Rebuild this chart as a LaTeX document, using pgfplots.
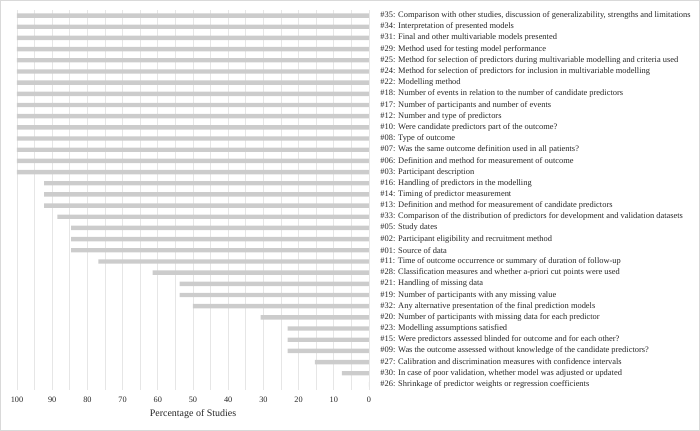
\documentclass[border=0pt]{standalone}
\usepackage{pgfplots}
\pgfplotsset{compat=1.18}
\usepackage{pgfplotstable}
\usepackage{fontspec}
\setmainfont{Liberation Serif}
\definecolor{barc}{HTML}{CCCCCC}
\definecolor{gridc}{HTML}{E6E6E6}
\definecolor{framec}{HTML}{D9D9D9}

\pgfplotstableread{
i v
0 100
1 100
2 100
3 100
4 100
5 100
6 100
7 100
8 100
9 100
10 100
11 100
12 100
13 100
14 100
15 92.3
16 92.3
17 92.3
18 88.5
19 84.6
20 84.6
21 84.6
22 76.9
23 61.5
24 53.8
25 53.8
26 50.0
27 30.8
28 23.1
29 23.1
30 23.1
31 15.4
32 7.7
33 0
}\datatable

\begin{document}
\begin{tikzpicture}
\path[use as bounding box] (-17bp,-41bp) rectangle (683bp,390bp);
\draw[framec, line width=0.8bp] (-16.6bp,-40.6bp) rectangle (682.6bp,389.6bp);
\begin{axis}[
 at={(0,0)}, anchor=south west,
 scale only axis, width=352bp, height=380bp,
 xbar, bar width=4.4bp, bar shift=0pt,
 x dir=reverse, y dir=reverse,
 xmin=0, xmax=100, ymin=-0.5, ymax=33.5,
 xtick={0,10,...,100}, minor xtick={5,15,...,95},
 xmajorgrids, xminorgrids,
 major grid style={gridc, line width=0.6bp},
 minor grid style={gridc, line width=0.6bp},
 axis line style={draw=none},
 tick style={draw=none},
 ytick={0,...,33},
 yticklabels={
 {\#35: Comparison with other studies, discussion of generalizability, strengths and limitations},
 {\#34: Interpretation of presented models},
 {\#31: Final and other multivariable models presented},
 {\#29: Method used for testing model performance},
 {\#25: Method for selection of predictors during multivariable modelling and criteria used},
 {\#24: Method for selection of predictors for inclusion in multivariable modelling},
 {\#22: Modelling method},
 {\#18: Number of events in relation to the number of candidate predictors},
 {\#17: Number of participants and number of events},
 {\#12: Number and type of predictors},
 {\#10: Were candidate predictors part of the outcome?},
 {\#08: Type of outcome},
 {\#07: Was the same outcome definition used in all patients?},
 {\#06: Definition and method for measurement of outcome},
 {\#03: Participant description},
 {\#16: Handling of predictors in the modelling},
 {\#14: Timing of predictor measurement},
 {\#13: Definition and method for measurement of candidate predictors},
 {\#33: Comparison of the distribution of predictors for development and validation datasets},
 {\#05: Study dates},
 {\#02: Participant eligibility and recruitment method},
 {\#01: Source of data},
 {\#11: Time of outcome occurrence or summary of duration of follow-up},
 {\#28: Classification measures and whether a-priori cut points were used},
 {\#21: Handling of missing data},
 {\#19: Number of participants with any missing value},
 {\#32: Any alternative presentation of the final prediction models},
 {\#20: Number of participants with missing data for each predictor},
 {\#23: Modelling assumptions satisfied},
 {\#15: Were predictors assessed blinded for outcome and for each other?},
 {\#09: Was the outcome assessed without knowledge of the candidate predictors?},
 {\#27: Calibration and discrimination measures with confidence intervals},
 {\#30: In case of poor validation, whether model was adjusted or updated},
 {\#26: Shrinkage of predictor weights or regression coefficients}
 },
 yticklabel pos=right,
 yticklabel style={anchor=west, inner sep=0pt, xshift=7bp, font=\fontsize{8.45}{9}\selectfont, text=black!85},
 xticklabel style={anchor=center, inner sep=0pt, yshift=-10bp, font=\fontsize{8.3}{9}\selectfont, text=black!85},
 /pgf/number format/assume math mode=true,
 xlabel={Percentage of Studies},
 xlabel style={at={(axis description cs:0.5,0)}, anchor=center, inner sep=0pt, yshift=-24bp, font=\fontsize{10}{11}\selectfont, text=black!85},
]
\addplot[fill=barc, draw=none] table[x=v, y=i] {\datatable};
\end{axis}
\end{tikzpicture}
\end{document}
